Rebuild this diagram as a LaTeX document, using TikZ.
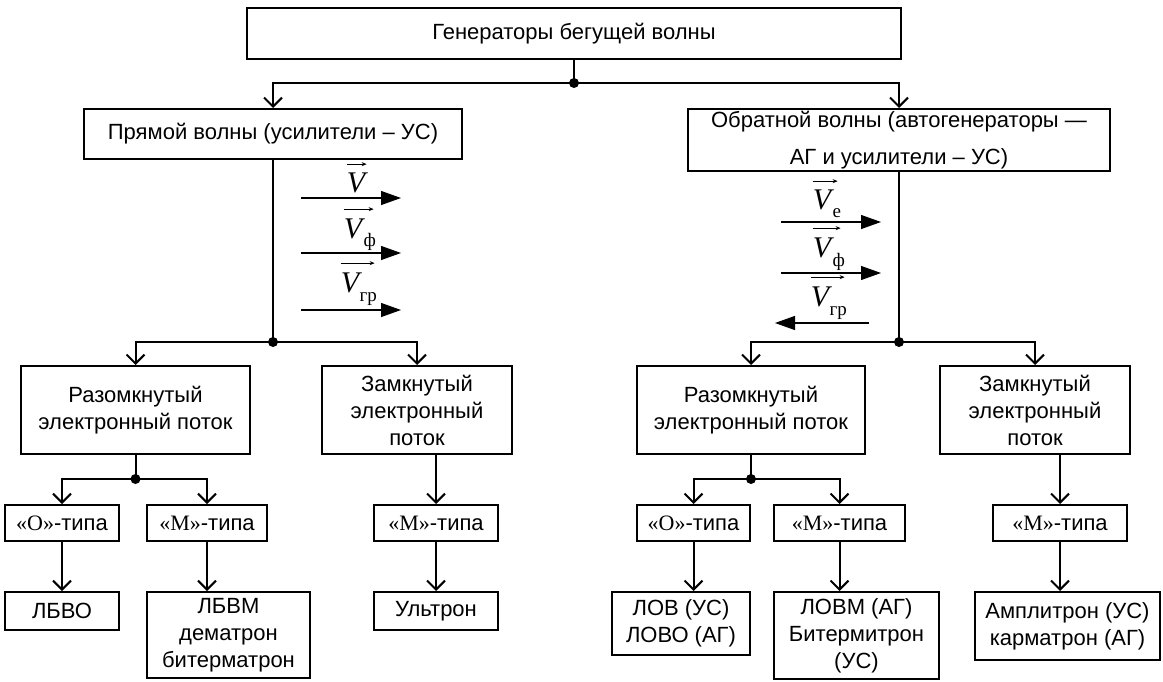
\documentclass[tikz,border=0pt]{standalone}
\usepackage{fontspec}
\setmainfont{Liberation Sans}
\newfontfamily\timesfont{Liberation Serif}
\usepackage{tikz}
\usetikzlibrary{arrows.meta,positioning,calc}

\newcommand{\boxfont}{\fontsize{22}{27}\selectfont}
\newcommand{\qt}[1]{{\timesfont«#1»}}

\begin{document}
\begin{tikzpicture}[x=1pt,y=-1pt,
  blk/.style={draw,line width=2pt,align=center,inner sep=2pt,font=\boxfont},
  link/.style={line width=2pt,-{Straight Barb[length=9pt,width=18pt]}},
  plain/.style={line width=2pt},
  vel/.style={line width=1.2pt,-{Triangle[length=20pt,width=14pt]}},
  vsym/.style={anchor=base,inner sep=0pt,font=\timesfont\fontsize{30}{30}\selectfont\itshape},
  vsub/.style={anchor=base west,inner sep=0pt,font=\timesfont\fontsize{19}{19}\selectfont},
  ovarr/.style={line width=0.8pt,-{Stealth[length=5pt,width=4pt]}}]
  \useasboundingbox (0,0) rectangle (1163,682);

  % levels 1-2
  \node[blk,minimum width=654pt,minimum height=51pt] (gen) at (574,33.5) {Генераторы бегущей волны};
  \node[blk,minimum width=378pt,minimum height=50pt] (fwd) at (273,134) {Прямой волны (усилители – УС)};
  \node[blk,minimum width=422pt,minimum height=62pt] (bwd) at (899,140)
       {Обратной волны (автогенераторы —\\[10pt] АГ и усилители – УС)};

  % level 3
  \node[blk,minimum width=229pt,minimum height=88pt] (lopen) at (135.5,410) {Разомкнутый\\электронный поток};
  \node[blk,minimum width=190pt,minimum height=88pt] (lclosed) at (417,410) {Замкнутый\\электронный\\поток};
  \node[blk,minimum width=228pt,minimum height=88pt] (ropen) at (751,410) {Разомкнутый\\электронный поток};
  \node[blk,minimum width=190pt,minimum height=88pt] (rclosed) at (1035,410) {Замкнутый\\электронный\\поток};

  % level 4
  \node[blk,minimum width=114pt,minimum height=36pt] (lO) at (62,523) {\qt{О}-типа};
  \node[blk,minimum width=120pt,minimum height=36pt] (lM) at (207,523) {\qt{М}-типа};
  \node[blk,minimum width=124pt,minimum height=36pt] (lmc) at (436,523) {\qt{М}-типа};
  \node[blk,minimum width=113pt,minimum height=36pt] (rO) at (693.5,523) {\qt{О}-типа};
  \node[blk,minimum width=131pt,minimum height=36pt] (rM) at (839.5,523) {\qt{М}-типа};
  \node[blk,minimum width=134pt,minimum height=36pt] (rmc) at (1060,523) {\qt{М}-типа};

  % level 5
  \node[blk,minimum width=114pt,minimum height=38pt] (lbvo) at (62,611) {ЛБВО};
  \node[blk,minimum width=163pt,minimum height=86pt] (lbvm) at (228.5,635) {ЛБВМ\\дематрон\\битерматрон};
  \node[blk,minimum width=124pt,minimum height=38pt] (ult) at (436,611) {Ультрон};
  \node[blk,minimum width=138pt,minimum height=63pt] (lov) at (681,623.5) {ЛОВ (УС)\\ЛОВО (АГ)};
  \node[blk,minimum width=165pt,minimum height=87pt] (lovm) at (856.5,635.5) {ЛОВМ (АГ)\\Битермитрон\\(УС)};
  \node[blk,minimum width=185pt,minimum height=68pt] (amp) at (1067.5,626) {Амплитрон (УС)\\карматрон (АГ)};

  % branch points
  \coordinate (gj) at (574,83);
  \coordinate (lj) at (273,342);
  \coordinate (rj) at (899,342);
  \coordinate (lj3) at (135.5,479);
  \coordinate (rj3) at (751,479);

  \draw[plain] (gen.south) -- (gj);
  \draw[link] (gj) -| (fwd.north);
  \draw[link] (gj) -| (bwd.north);
  \draw[plain] (fwd.south) -- (lj);
  \draw[link] (lj) -| (lopen.north);
  \draw[link] (lj) -| (lclosed.north);
  \draw[plain] (bwd.south) -- (rj);
  \draw[link] (rj) -| (ropen.north);
  \draw[link] (rj) -| (rclosed.north);

  \draw[plain] (lopen.south) -- (lj3);
  \draw[link] (lj3) -| (lO.north);
  \draw[link] (lj3) -| (lM.north);
  \draw[link] (lO.south) -- (lbvo.north);
  \draw[link] (lM.south) -- (lM.south |- lbvm.north);
  \draw[link] (lclosed.south -| lmc.north) -- (lmc.north);
  \draw[link] (lmc.south) -- (ult.north);

  \draw[plain] (ropen.south) -- (rj3);
  \draw[link] (rj3) -| (rO.north);
  \draw[link] (rj3) -| (rM.north);
  \draw[link] (rO.south) -- (rO.south |- lov.north);
  \draw[link] (rM.south) -- (rM.south |- lovm.north);
  \draw[link] (rclosed.south -| rmc.north) -- (rmc.north);
  \draw[link] (rmc.south) -- (rmc.south |- amp.north);

  \foreach \c in {gj,lj,rj,lj3,rj3}
    \fill (\c) circle (5pt);

  % velocities, forward wave
  \foreach \y in {198,253,310}
    \draw[vel] (301,\y) -- (401,\y);
  \node[vsym] (va) at (356,193) {V};
  \draw[ovarr] ([yshift=9pt]va.north west) -- ++(20,0);
  \node[vsym] (vb) at (353,238) {V};
  \node[vsub] (vbs) at ([xshift=1pt,yshift=-9pt]vb.base east) {ф};
  \draw[ovarr] ([yshift=9pt]vb.north west) -- ++(30,0);
  \node[vsym] (vc) at (350,292) {V};
  \node[vsub] (vcs) at ([yshift=-9pt]vc.base east) {гр};
  \draw[ovarr] ([yshift=9pt]vc.north west) -- ++(34,0);

  % velocities, backward wave
  \foreach \y in {222,273}
    \draw[vel] (781,\y) -- (881,\y);
  \draw[vel] (869,323) -- (775,323);
  \node[vsym] (vd) at (822,210) {V};
  \node[vsub] (vds) at ([xshift=1pt,yshift=-8pt]vd.base east) {е};
  \draw[ovarr] ([yshift=9pt]vd.north west) -- ++(25,0);
  \node[vsym] (ve) at (822,257) {V};
  \node[vsub] (ves) at ([xshift=1pt,yshift=-9pt]ve.base east) {ф};
  \draw[ovarr] ([yshift=9pt]ve.north west) -- ++(28,0);
  \node[vsym] (vf) at (820,306) {V};
  \node[vsub] (vfs) at ([yshift=-9pt]vf.base east) {гр};
  \draw[ovarr] ([yshift=9pt]vf.north west) -- ++(34,0);
\end{tikzpicture}
\end{document}
